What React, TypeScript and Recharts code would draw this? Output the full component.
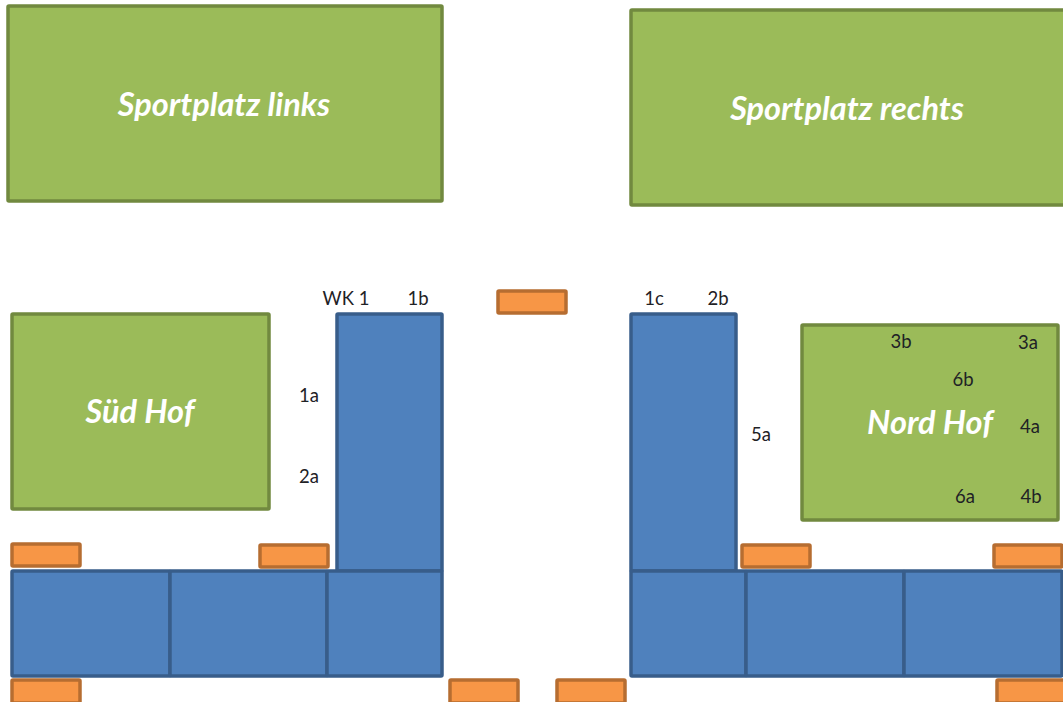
import { LabelList, ReferenceArea, Scatter, ScatterChart, XAxis, YAxis } from "recharts";

interface Box {
  x1: number;
  x2: number;
  y1: number;
  y2: number;
}

interface PlanLabel {
  x: number;
  y: number;
  text: string;
}

const fields: Box[] = [
  { x1: 8, x2: 442, y1: 6, y2: 201 },
  { x1: 631, x2: 1068, y1: 10, y2: 205 },
  { x1: 12, x2: 269, y1: 314, y2: 509 },
  { x1: 802, x2: 1058, y1: 325, y2: 520 },
];

const buildings: Box[] = [
  { x1: 337, x2: 442, y1: 314, y2: 571 },
  { x1: 631, x2: 736, y1: 314, y2: 571 },
  { x1: 12, x2: 170, y1: 571, y2: 676 },
  { x1: 170, x2: 327, y1: 571, y2: 676 },
  { x1: 327, x2: 442, y1: 571, y2: 676 },
  { x1: 631, x2: 746, y1: 571, y2: 676 },
  { x1: 746, x2: 904, y1: 571, y2: 676 },
  { x1: 904, x2: 1062, y1: 571, y2: 676 },
];

const benches: Box[] = [
  { x1: 12, x2: 80, y1: 544, y2: 566 },
  { x1: 260, x2: 328, y1: 545, y2: 567 },
  { x1: 498, x2: 566, y1: 291, y2: 313 },
  { x1: 12, x2: 80, y1: 680, y2: 703 },
  { x1: 450, x2: 518, y1: 680, y2: 703 },
  { x1: 557, x2: 625, y1: 680, y2: 703 },
  { x1: 742, x2: 810, y1: 545, y2: 567 },
  { x1: 994, x2: 1062, y1: 545, y2: 567 },
  { x1: 997, x2: 1066, y1: 680, y2: 703 },
];

const areaNames: PlanLabel[] = [
  { x: 224, y: 103, text: "Sportplatz links" },
  { x: 847, y: 107, text: "Sportplatz rechts" },
  { x: 140, y: 410, text: "Süd Hof" },
  { x: 930, y: 421, text: "Nord Hof" },
];

const spots: PlanLabel[] = [
  { x: 346, y: 298, text: "WK 1" },
  { x: 418, y: 298, text: "1b" },
  { x: 309, y: 395, text: "1a" },
  { x: 309, y: 476, text: "2a" },
  { x: 654, y: 298, text: "1c" },
  { x: 718, y: 298, text: "2b" },
  { x: 761, y: 434, text: "5a" },
  { x: 901, y: 341, text: "3b" },
  { x: 1028, y: 342, text: "3a" },
  { x: 963, y: 379, text: "6b" },
  { x: 1030, y: 426, text: "4a" },
  { x: 965, y: 496, text: "6a" },
  { x: 1031, y: 496, text: "4b" },
];

const drawBoxes = (boxes: Box[], fill: string, stroke: string, prefix: string) =>
  boxes.map((b, i) => (
    <ReferenceArea
      key={prefix + i}
      x1={b.x1}
      x2={b.x2}
      y1={b.y1}
      y2={b.y2}
      fill={fill}
      fillOpacity={1}
      stroke={stroke}
      strokeWidth={3.5}
      radius={1}
      ifOverflow="visible"
    />
  ));

// Recharts wraps label text to the point's width, so draw it as a single line
const nameLabel = (props: any) => (
  <text
    x={props.x + props.width / 2}
    y={props.y + props.height / 2}
    textAnchor="middle"
    dominantBaseline="central"
    fill="#ffffff"
    fontFamily="Lato"
    fontSize={32.5}
    fontWeight={700}
    fontStyle="italic"
  >
    {props.value}
  </text>
);

const spotLabel = (props: any) => (
  <text
    x={props.x + props.width / 2}
    y={props.y + props.height / 2}
    textAnchor="middle"
    dominantBaseline="central"
    fill="#1f2226"
    fontFamily="Lato"
    fontSize={18.5}
  >
    {props.value}
  </text>
);

export default function App() {
  return (
    <div style={{ position: "absolute", left: 0, top: 0, width: 1063, height: 702, overflow: "hidden" }}>
      <ScatterChart width={1063} height={702} margin={{ top: 0, right: 0, bottom: 0, left: 0 }}>
        <XAxis type="number" dataKey="x" domain={[0, 1063]} hide />
        <YAxis type="number" dataKey="y" domain={[0, 702]} reversed hide />
        {drawBoxes(fields, "#9bbb59", "#71893f", "field")}
        {drawBoxes(buildings, "#4f81bd", "#385d8a", "building")}
        {drawBoxes(benches, "#f79646", "#b66d31", "bench")}
        <Scatter data={areaNames} isAnimationActive={false} shape={() => <g />}>
          <LabelList dataKey="text" content={nameLabel} />
        </Scatter>
        <Scatter data={spots} isAnimationActive={false} shape={() => <g />}>
          <LabelList dataKey="text" content={spotLabel} />
        </Scatter>
      </ScatterChart>
    </div>
  );
}
